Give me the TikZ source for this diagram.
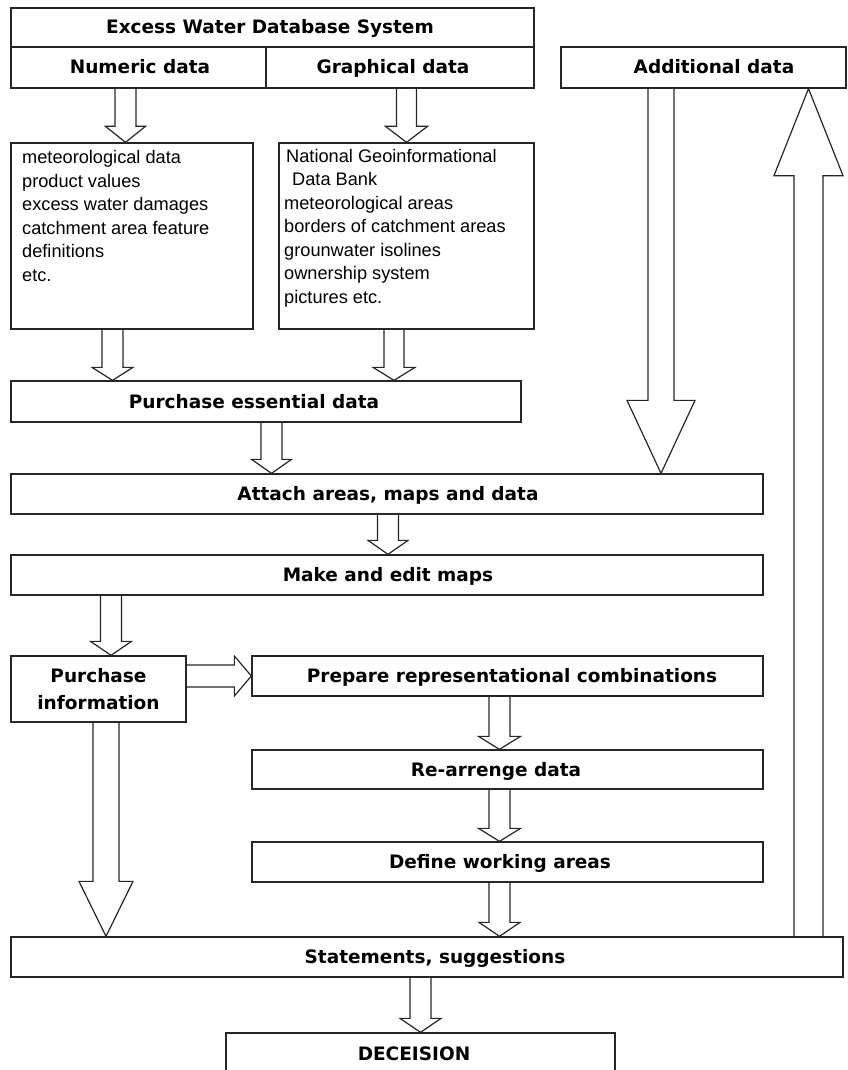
\documentclass[tikz,border=0pt]{standalone}
\usepackage{fontspec}
\setmainfont{Liberation Sans}
\newfontfamily\dvs{DejaVu Sans}
\usetikzlibrary{calc,fit}
\newcommand{\blk}[5]{%
  \coordinate (bkH) at ($(#2)!#5!(#1)$);
  \draw[arrline] ($(#1)!#3!90:(#2)$) -- ($(bkH)!#3!90:(#2)$) -- ($(bkH)!#4!90:(#2)$) -- (#2)
    -- ($(bkH)!#4!-90:(#2)$) -- ($(bkH)!#3!-90:(#2)$) -- ($(#1)!#3!-90:(#2)$);
}
\tikzset{
  bx/.style={draw=black!85, line width=1.3pt, inner sep=0pt, rectangle},
  arrline/.style={draw=black!85, line width=1.2pt, line join=miter},
  tt/.style={font=\dvs\bfseries\fontsize{18.5}{22}\selectfont, inner sep=0pt, anchor=base},
  lt/.style={font=\fontsize{18.2}{21}\selectfont, inner sep=0pt, anchor=base west}
}
\begin{document}
\begin{tikzpicture}[x=1pt,y=-1pt]
\useasboundingbox (0,0) rectangle (847,1070);
\clip (0,0) rectangle (847,1070);
% boxes
\node[bx, fit={(11,8)(534,47)}] (title) {};
\node[bx, fit={(11,47)(266,88)}] (numeric) {};
\node[bx, fit={(266,47)(534,88)}] (graph) {};
\node[bx, fit={(561,47)(846,88)}] (addl) {};
\node[bx, fit={(11,143)(253,329)}] (ltext) {};
\node[bx, fit={(279,143)(534,329)}] (rtext) {};
\node[bx, fit={(11,381)(521,422)}] (pess) {};
\node[bx, fit={(11,474)(763,514)}] (attach) {};
\node[bx, fit={(11,555)(763,595)}] (make) {};
\node[bx, fit={(11,656)(186,722)}] (pinfo) {};
\node[bx, fit={(252,656)(763,696)}] (prep) {};
\node[bx, fit={(252,750)(763,789)}] (rearr) {};
\node[bx, fit={(252,842)(763,882)}] (defw) {};
\node[bx, fit={(11,937)(843,977)}] (stmt) {};
\node[bx, fit={(226,1033)(615,1085)}] (dec) {};
% titles
\node[tt] (t-title) at (270,34) {Excess Water Database System};
\node[tt] (t-num) at (140,74) {Numeric data};
\node[tt] (t-graph) at (393,74) {Graphical data};
\node[tt] (t-addl) at (714,74) {Additional data};
\node[tt] (t-pess) at (254,408) {Purchase essential data};
\node[tt] (t-attach) at (388,500.5) {Attach areas, maps and data};
\node[tt] (t-make) at (388,581.5) {Make and edit maps};
\node[tt] (t-pinfo1) at (98.5,682) {Purchase};
\node[tt] (t-pinfo2) at (98.5,709) {information};
\node[tt] (t-prep) at (512,682.5) {Prepare representational combinations};
\node[tt] (t-rearr) at (496,776) {Re-arrenge data};
\node[tt] (t-defw) at (500,868.5) {Define working areas};
\node[tt] (t-stmt) at (435,963.5) {Statements, suggestions};
\node[tt] (t-dec) at (414,1060) {DECEISION};
% list texts
\node[lt] (l1) at (22,163.5) {meteorological data};
\node[lt] (l2) at (22,187) {product values};
\node[lt] (l3) at (22,210.5) {excess water damages};
\node[lt] (l4) at (22,234) {catchment area feature};
\node[lt] (l5) at (22,257.5) {definitions};
\node[lt] (l6) at (22,281) {etc.};
\node[lt] (r1) at (286,162) {National Geoinformational};
\node[lt] (r2) at (292,185.5) {Data Bank};
\node[lt] (r3) at (284,209) {meteorological areas};
\node[lt] (r4) at (284,232.5) {borders of catchment areas};
\node[lt] (r5) at (284,256) {grounwater isolines};
\node[lt] (r6) at (284,279.5) {ownership system};
\node[lt] (r7) at (284,303) {pictures etc.};
% arrow axes
\coordinate (xa1) at (125.5,0);
\coordinate (xa2) at (406.5,0);
\coordinate (xa3) at (112.5,0);
\coordinate (xa4) at (394,0);
\coordinate (xa5) at (271.5,0);
\coordinate (xa6) at (388,0);
\coordinate (xa7) at (111,0);
\coordinate (ya8) at (0,676);
\coordinate (xa9) at (499.5,0);
\coordinate (xa12) at (420.5,0);
\coordinate (xa13) at (106,0);
\coordinate (xa14) at (661,0);
\coordinate (xa15) at (808.5,0);
% arrows
\blk{numeric.south -| xa1}{ltext.north -| xa1}{10.5pt}{20pt}{16pt}
\blk{graph.south -| xa2}{rtext.north -| xa2}{10pt}{21pt}{16pt}
\blk{ltext.south -| xa3}{pess.north -| xa3}{10.5pt}{20.5pt}{13pt}
\blk{rtext.south -| xa4}{pess.north -| xa4}{10pt}{21pt}{13pt}
\blk{pess.south -| xa5}{attach.north -| xa5}{10.5pt}{20pt}{14pt}
\blk{attach.south -| xa6}{make.north -| xa6}{10.5pt}{20pt}{14pt}
\blk{make.south -| xa7}{pinfo.north -| xa7}{10.5pt}{20.5pt}{14pt}
\blk{pinfo.east |- ya8}{prep.west |- ya8}{11pt}{20pt}{17pt}
\blk{prep.south -| xa9}{rearr.north -| xa9}{10.5pt}{21pt}{13pt}
\blk{rearr.south -| xa9}{defw.north -| xa9}{10.5pt}{21pt}{13pt}
\blk{defw.south -| xa9}{stmt.north -| xa9}{10.5pt}{20.5pt}{14pt}
\blk{stmt.south -| xa12}{dec.north -| xa12}{10.5pt}{20.5pt}{14pt}
\blk{pinfo.south -| xa13}{stmt.north -| xa13}{13pt}{27pt}{55pt}
\blk{addl.south -| xa14}{attach.north -| xa14}{13pt}{34pt}{73pt}
\blk{stmt.north -| xa15}{addl.south -| xa15}{14.5pt}{34.5pt}{87pt}
\end{tikzpicture}
\end{document}
